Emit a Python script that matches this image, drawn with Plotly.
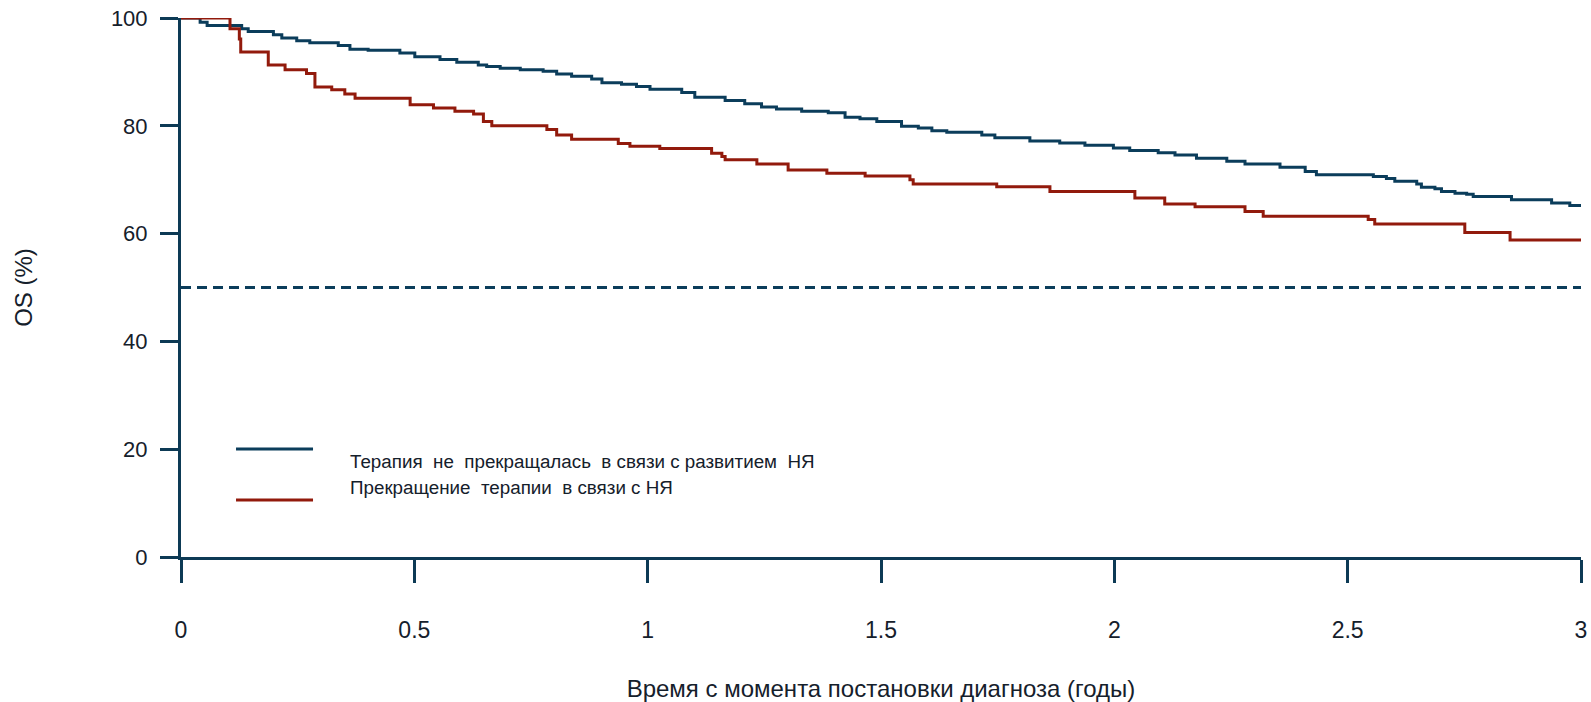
import plotly.graph_objects as go

# Kaplan-Meier step data (time in years, OS %)
blue_t = [0, 0.041, 0.056, 0.130, 0.144, 0.198, 0.216, 0.248, 0.276, 0.337, 0.362, 0.401, 0.469,
          0.501, 0.555, 0.591, 0.637, 0.655, 0.684, 0.727, 0.776, 0.805, 0.837, 0.880, 0.902,
          0.944, 0.976, 1.005, 1.073, 1.101, 1.166, 1.208, 1.244, 1.276, 1.330, 1.387, 1.423,
          1.455, 1.491, 1.544, 1.580, 1.609, 1.641, 1.716, 1.744, 1.819, 1.883, 1.937, 1.998,
          2.033, 2.094, 2.130, 2.176, 2.241, 2.280, 2.355, 2.409, 2.433, 2.555, 2.583, 2.601,
          2.648, 2.658, 2.687, 2.701, 2.730, 2.755, 2.769, 2.851, 2.937, 2.976, 3.0]
blue_v = [100, 99.2, 98.6, 98.0, 97.5, 96.9, 96.3, 95.8, 95.4, 94.9, 94.2, 94.0, 93.5,
          92.8, 92.3, 91.8, 91.3, 91.0, 90.7, 90.4, 90.1, 89.6, 89.2, 88.7, 88.0,
          87.7, 87.3, 86.8, 86.2, 85.3, 84.7, 84.1, 83.5, 83.1, 82.7, 82.4, 81.6,
          81.3, 80.8, 79.9, 79.6, 79.1, 78.8, 78.3, 77.8, 77.2, 76.8, 76.4, 75.9,
          75.4, 75.0, 74.6, 74.0, 73.4, 72.9, 72.3, 71.5, 70.9, 70.6, 70.2, 69.7,
          69.2, 68.6, 68.3, 67.8, 67.5, 67.3, 66.9, 66.3, 65.7, 65.2, 65.2]

red_t = [0, 0.105, 0.125, 0.128, 0.187, 0.223, 0.269, 0.287, 0.323, 0.351, 0.373, 0.491, 0.541,
         0.587, 0.627, 0.648, 0.666, 0.784, 0.805, 0.837, 0.937, 0.962, 1.026, 1.137, 1.159,
         1.166, 1.234, 1.301, 1.384, 1.466, 1.562, 1.569, 1.748, 1.862, 2.044, 2.108, 2.173,
         2.280, 2.319, 2.544, 2.558, 2.751, 2.848, 3.0]
red_v = [100, 98.0, 96.1, 93.7, 91.3, 90.4, 89.7, 87.2, 86.7, 85.9, 85.1, 83.9, 83.3,
         82.7, 82.2, 80.8, 80.0, 79.3, 78.3, 77.5, 76.7, 76.2, 75.8, 74.9, 74.3,
         73.7, 72.9, 71.8, 71.2, 70.7, 70.0, 69.2, 68.7, 67.8, 66.6, 65.5, 65.0,
         64.1, 63.2, 62.6, 61.8, 60.2, 58.8, 58.8]

median_level = 50
x_ticks = [0, 0.5, 1, 1.5, 2, 2.5, 3]
y_ticks = [0, 20, 40, 60, 80, 100]
legend_labels = ["Терапия\u00a0 не\u00a0 прекращалась\u00a0 в связи с развитием\u00a0 НЯ",
                 "Прекращение\u00a0 терапии\u00a0 в связи с НЯ"]

BLUE = "#0b3d5b"
RED = "#921a0c"
AXIS = "#0d3a55"
TEXT = "#15202b"
FONT = "Liberation Sans, Arial, sans-serif"

fig = go.Figure()
fig.add_trace(go.Scatter(x=blue_t, y=blue_v, mode="lines", line=dict(color=BLUE, width=3, shape="hv"),
                         cliponaxis=False, showlegend=False))
fig.add_trace(go.Scatter(x=red_t, y=red_v, mode="lines", line=dict(color=RED, width=3, shape="hv"),
                         cliponaxis=False, showlegend=False))

fig.add_shape(type="line", xref="x", yref="y", x0=0, x1=3, y0=median_level, y1=median_level,
              line=dict(color=BLUE, width=3, dash="10px,6px"))

# legend (drawn manually to mimic the original layout)
leg_line_y = [0.2005, 0.1058]
leg_text_y = [0.1763, 0.1286]
for lab, col, ly, ty in zip(legend_labels, [BLUE, RED], leg_line_y, leg_text_y):
    fig.add_shape(type="line", xref="paper", yref="paper", x0=0.0393, x1=0.0943, y0=ly, y1=ly,
                  line=dict(color=col, width=3))
    fig.add_annotation(xref="paper", yref="paper", x=0.119, y=ty, text=lab,
                       showarrow=False, xanchor="left", yanchor="middle",
                       font=dict(family=FONT, size=18.8, color=TEXT))

fig.update_layout(
    width=1591, height=702,
    margin=dict(l=181, r=10, t=18, b=145, autoexpand=False),
    paper_bgcolor="white", plot_bgcolor="rgba(0,0,0,0)",
    font=dict(family=FONT, size=22, color=TEXT),
)
fig.update_xaxes(range=[0, 3], tickvals=x_ticks, ticktext=[str(v) for v in x_ticks],
                 showline=True, linecolor=AXIS, linewidth=3, showgrid=False, zeroline=False,
                 ticks="outside", ticklen=23, tickwidth=3, tickcolor=AXIS, ticklabelstandoff=27,
                 tickfont=dict(size=23), automargin=False,
                 title=dict(text="Время с момента постановки диагноза (годы)", standoff=39,
                            font=dict(size=24)))
fig.update_yaxes(range=[0, 100], tickvals=y_ticks, showline=True, linecolor=AXIS, linewidth=3,
                 showgrid=False, zeroline=False, ticks="outside", ticklen=18, tickwidth=3,
                 tickcolor=AXIS, ticklabelstandoff=8, tickfont=dict(size=22), automargin=False,
                 title=dict(text="OS (%)", standoff=72, font=dict(size=24)))

fig.write_html("out.html", config={"displayModeBar": False},
               post_script="document.body.style.margin='0';")
